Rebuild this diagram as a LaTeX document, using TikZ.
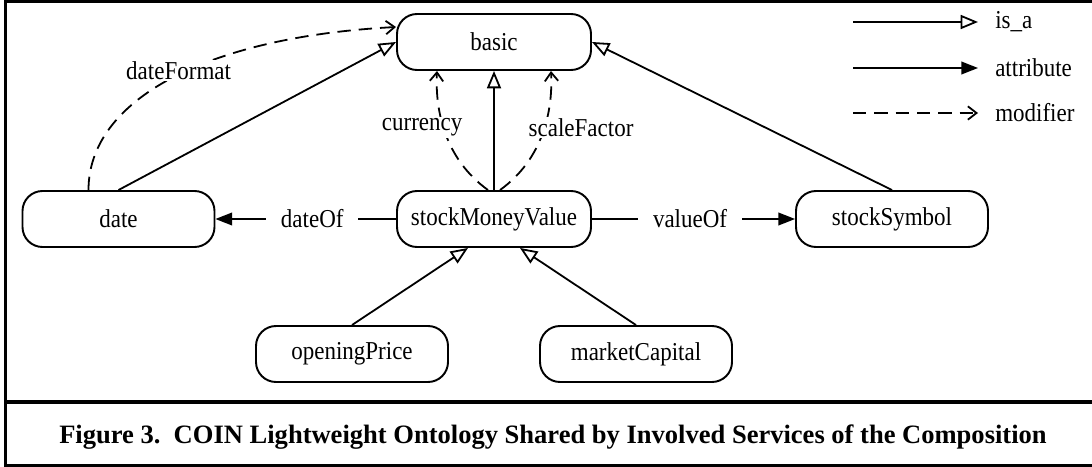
\documentclass[tikz,border=0pt]{standalone}
\usepackage{graphicx}
\usepackage{fontspec}
\setmainfont{Liberation Serif}
\usetikzlibrary{arrows.meta}
\newcommand\vtxt[1]{\scalebox{1}[1.12]{#1}}
\begin{document}
\begin{tikzpicture}[x=0.75pt,y=-0.75pt,
  box/.style={draw, line width=1.45pt, rounded corners=15pt, minimum width=144pt, minimum height=42pt, inner sep=0pt, font=\fontsize{17.25}{20}\selectfont},
  isa/.style={line width=1.35pt, -{Triangle[open,length=13pt,width=10.5pt,fill=white]}},
  attr/.style={line width=1.35pt, -{Triangle[length=12.5pt,width=9.5pt]}},
  modif/.style={line width=1.35pt, dash pattern=on 10pt off 6pt, -{Straight Barb[length=6.5pt,width=10pt]}},
  lbl/.style={fill=white, inner xsep=2pt, inner ysep=1pt, font=\fontsize{17.25}{20}\selectfont},
  legtext/.style={anchor=west, inner sep=0pt, font=\fontsize{17.25}{20}\selectfont},
  frameline/.style={line width=2.4pt}
]
\useasboundingbox (0,0) rectangle (1092,467);
% frame
\draw[frameline] (1092,1.5) -- (5.5,1.5) -- (5.5,465.5) -- (1092,465.5);
\draw[frameline] (5.5,402) -- (1092,402);

% nodes
\node[box, minimum width=145.5pt] (basic) at (494,42) {\vtxt{basic}};
\node[box, minimum width=145.5pt] (smv) at (494,219) {\vtxt{stockMoneyValue}};
\node[box] (date) at (118.5,219) {\vtxt{date}};
\node[box] (ss) at (892,219) {\vtxt{stockSymbol}};
\node[box] (op) at (352,354) {\vtxt{openingPrice}};
\node[box] (mc) at (636,354) {\vtxt{marketCapital}};

% is_a edges
\draw[isa] (date.north) -- (basic.west);
\draw[isa] (smv) -- (basic);
\draw[isa] (ss.north) -- (basic.east);
\draw[isa] (op.north) -- ([xshift=-19.5pt]smv.south);
\draw[isa] (mc.north) -- ([xshift=19.5pt]smv.south);

% attribute edges
\draw[attr] (smv.west) -- node[lbl, pos=0.464, inner xsep=11pt] {\vtxt{dateOf}} (date.east);
\draw[attr] (smv.east) -- node[lbl, pos=0.483, inner xsep=11pt] {\vtxt{valueOf}} (ss.west);

% modifier edges
\draw[modif] ([xshift=-22.5pt]date.north) .. controls +(0,-90) and +(-190,10) .. node[lbl, pos=0.5, xshift=5.7pt, yshift=5.9pt] {\vtxt{dateFormat}} ([yshift=11.25pt]basic.west);
\draw[modif] ([xshift=-4.5pt]smv.north) .. controls +(-43,-31) and +(-2,40) .. node[lbl, pos=0.55, xshift=-16pt] {\vtxt{currency}} ([xshift=-42.75pt]basic.south);
\draw[modif] ([xshift=4.5pt]smv.north) .. controls +(43,-31) and +(2,40) .. node[lbl, pos=0.55, xshift=27.4pt] {\vtxt{scaleFactor}} ([xshift=42.75pt]basic.south);

% legend
\coordinate (l1s) at (853,22); \coordinate (l1e) at (978,22);
\coordinate (l2s) at (853,68); \coordinate (l2e) at (978,68);
\coordinate (l3s) at (853,113); \coordinate (l3e) at (978,113);
\draw[isa] (l1s) -- (l1e);
\draw[attr] (l2s) -- (l2e);
\draw[modif] (l3s) -- (l3e);
\node[legtext] (t1) at (995,22) {\vtxt{is\_a}};
\node[legtext] (t2) at (995,68) {\vtxt{attribute}};
\node[legtext] (t3) at (995,113) {\vtxt{modifier}};

% caption
\node[anchor=base, inner sep=0pt, font=\bfseries\fontsize{19.9}{24}\selectfont] (cap) at (553,443) {Figure 3.\ \ COIN Lightweight Ontology Shared by Involved Services of the Composition};
\end{tikzpicture}
\end{document}
